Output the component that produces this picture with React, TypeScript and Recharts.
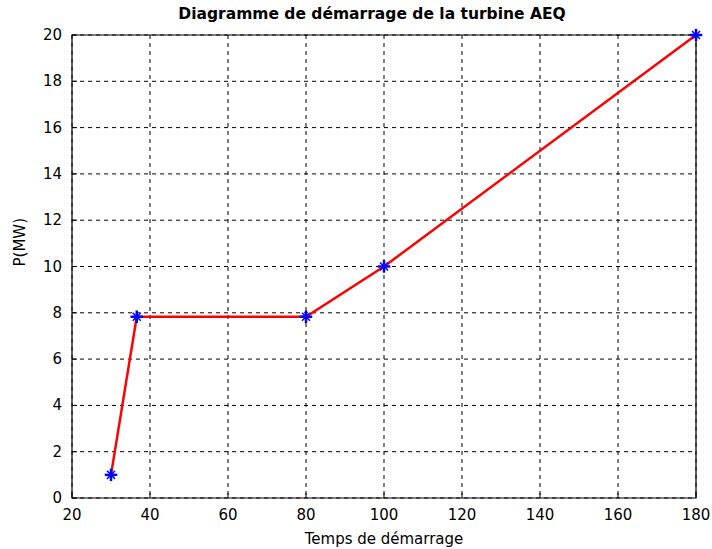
import { LineChart, Line, XAxis, YAxis, CartesianGrid, ReferenceArea } from 'recharts';

const tempsValues = [30, 36.6, 80, 100, 180];
const puissanceValues = [1, 7.83, 7.83, 10, 20];
const xTicks = [20, 40, 60, 80, 100, 120, 140, 160, 180];
const yTicks = [0, 2, 4, 6, 8, 10, 12, 14, 16, 18, 20];

const data = tempsValues.map((t, i) => ({ t, p: puissanceValues[i] }));

const FONT = '"DejaVu Sans", Verdana, sans-serif';
const GAP = 10;
const TICK_LEN = 5;

const StarDot = (props: any) => {
  const { cx, cy, index } = props;
  if (cx == null || cy == null) return null;
  const r = 5;
  const d = 3.5;
  return (
    <g key={index} stroke="#0000ff" strokeWidth={2.5} strokeLinecap="square">
      <line x1={cx - r} y1={cy} x2={cx + r} y2={cy} />
      <line x1={cx} y1={cy - r} x2={cx} y2={cy + r} />
      <line x1={cx - d} y1={cy - d} x2={cx + d} y2={cy + d} strokeWidth={1.5} />
      <line x1={cx - d} y1={cy + d} x2={cx + d} y2={cy - d} strokeWidth={1.5} />
    </g>
  );
};

// bottom axis: label + inward tick
const BottomTick = (props: any) => {
  const { x, y, payload } = props;
  const axisY = y - GAP;
  return (
    <g>
      <line x1={x} x2={x} y1={axisY} y2={axisY - TICK_LEN} stroke="#000" />
      <text x={x} y={y} dy={12} textAnchor="middle" fontSize={15} fontFamily={FONT} fill="#000">
        {payload.value}
      </text>
    </g>
  );
};

const LeftTick = (props: any) => {
  const { x, y, payload } = props;
  const axisX = x + GAP;
  return (
    <g>
      <line x1={axisX} x2={axisX + TICK_LEN} y1={y} y2={y} stroke="#000" />
      <text x={x} y={y} dy={5} textAnchor="end" fontSize={15} fontFamily={FONT} fill="#000">
        {payload.value}
      </text>
    </g>
  );
};

const TopTick = (props: any) => {
  const { x, y } = props;
  const axisY = y + GAP;
  return <line x1={x} x2={x} y1={axisY} y2={axisY + TICK_LEN} stroke="#000" />;
};

const RightTick = (props: any) => {
  const { x, y } = props;
  const axisX = x - GAP;
  return <line x1={axisX} x2={axisX - TICK_LEN} y1={y} y2={y} stroke="#000" />;
};

export default function App() {
  return (
    <div style={{ position: 'absolute', left: 0, top: 0, width: 712, height: 549, background: '#fff', fontFamily: FONT }}>
      <div
        style={{
          position: 'absolute', top: 5, left: 0, width: 712, paddingLeft: 32, boxSizing: 'border-box',
          textAlign: 'center', fontWeight: 'bold', fontSize: 15.5, color: '#000',
        }}
      >
        Diagramme de démarrage de la turbine AEQ
      </div>
      <LineChart width={712} height={549} data={data} margin={{ top: 35, right: 16, bottom: 21, left: 22 }}>
        <CartesianGrid stroke="#000" strokeDasharray="4 4" strokeWidth={1} />
        <XAxis
          dataKey="t"
          type="number"
          domain={[20, 180]}
          ticks={xTicks}
          tickLine={false}
          axisLine={false}
          tickSize={0}
          tickMargin={GAP}
          height={30}
          tick={<BottomTick />}
          label={{ value: 'Temps de démarrage', position: 'insideBottom', offset: -16, fontSize: 15, fill: '#000', fontFamily: FONT }}
        />
        <XAxis
          xAxisId="top"
          orientation="top"
          dataKey="t"
          type="number"
          domain={[20, 180]}
          ticks={xTicks}
          tickLine={false}
          axisLine={false}
          tickSize={0}
          tickMargin={GAP}
          height={0}
          tick={<TopTick />}
        />
        <YAxis
          dataKey="p"
          type="number"
          domain={[0, 20]}
          ticks={yTicks}
          tickLine={false}
          axisLine={false}
          tickSize={0}
          tickMargin={GAP}
          width={50}
          tick={<LeftTick />}
          label={{ value: 'P(MW)', angle: -90, position: 'insideLeft', offset: -2, fontSize: 15, fill: '#000', fontFamily: FONT }}
        />
        <YAxis
          yAxisId="right"
          orientation="right"
          dataKey="p"
          type="number"
          domain={[0, 20]}
          ticks={yTicks}
          tickLine={false}
          axisLine={false}
          tickSize={0}
          tickMargin={GAP}
          width={0}
          tick={<RightTick />}
        />
        <ReferenceArea x1={20} x2={180} y1={0} y2={20} fill="none" stroke="#000" strokeWidth={1.2} ifOverflow="visible" />
        <Line
          dataKey="p"
          stroke="#ff0000"
          strokeWidth={2.5}
          dot={<StarDot />}
          activeDot={false}
          isAnimationActive={false}
        />
      </LineChart>
    </div>
  );
}
